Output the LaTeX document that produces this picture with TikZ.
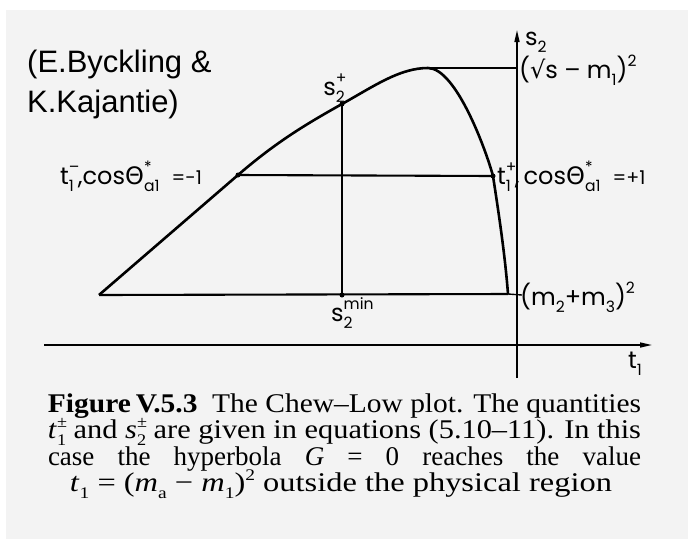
\documentclass[tikz,border=0pt]{standalone}
\usepackage{fontspec}
\usepackage{graphicx}
\setmainfont{Liberation Serif}
\newfontfamily\lab{Poppins}
\newfontfamily\labg{DejaVu Sans}
\newfontfamily\arialf{Liberation Sans}
\usetikzlibrary{arrows.meta}
\newcommand\lsb[1]{\raisebox{-0.3em}{\scalebox{0.65}{#1}}}
\newcommand\lsp[1]{\raisebox{0.5em}{\scalebox{0.65}{#1}}}
\newcommand\lss[2]{\rlap{\lsp{#1}}\lsb{#2}}
\newcommand\csb[1]{\raisebox{-0.25em}{\scalebox{0.6}{#1}}}
\newcommand\csp[1]{\raisebox{0.4em}{\scalebox{0.6}{#1}}}
\newcommand\css[2]{\rlap{\csp{#1}}\csb{#2}}
\newsavebox\cbox
\newcommand\fitline[2][593pt]{\sbox\cbox{#2}\resizebox{#1}{\height}{\usebox\cbox}}
\newcommand\jline[2][593pt]{\makebox[#1][s]{#2}}
\definecolor{scan}{RGB}{243,243,243}
\begin{document}
\begin{tikzpicture}[x=1pt,y=-1pt,
  curve/.style={line width=2.6pt,line join=round},
  base/.style={line width=2.1pt},
  thin/.style={line width=1.4pt},
  axisline/.style={line width=1.5pt},
  dotp/.style={circle,fill=black,inner sep=0pt,minimum size=5pt},
  lbl/.style={inner sep=0pt,font=\lab\fontsize{24}{24}\selectfont},
  captext/.style={inner sep=0pt,anchor=base,font=\fontsize{27}{27}\selectfont},
  credit/.style={inner sep=0pt,anchor=base west,font=\arialf\fontsize{31}{31}\selectfont}]
\useasboundingbox (0,0) rectangle (688,539);
\fill[white] (0,0) rectangle (688,539);
\fill[scan] (6,10) rectangle (688,539);
% key points
\coordinate (A) at (99,295);
\node[dotp] (Tm) at (238,175) {};
\node[dotp] (Sp) at (342,104) {};
\coordinate (P) at (428,68);
\node[dotp] (Tp) at (493,176) {};
\coordinate (B) at (508,294);
\node[dotp] (Smin) at (342,295) {};
\coordinate (Ytop) at (517,30);
\coordinate (Ybot) at (517,378);
\coordinate (Xl) at (44,345);
\coordinate (Xr) at (652,345);
\coordinate (Ypk) at (517,68);
\coordinate (Ymm) at (522,295);
% axes
\draw[axisline,-{Triangle[length=12pt,width=5pt]}] (Xl) -- (Xr);
\draw[axisline,-{Triangle[length=12pt,width=5pt]}] (Ybot) -- (Ytop);
% lines
\draw[thin] (P) -- (Ypk);
\draw[base] (Tm.center) -- (Tp.center);
\draw[thin] (Sp.center) -- (Smin.center);
\draw[base] (A) -- (B);
\draw[thin] (B) -- (Ymm);
\draw[curve] (B) .. controls (505,255) and (499,215) .. (Tp.center)
  .. controls (486,150) and (456,68) .. (P)
  .. controls (400,68) and (375,85.5) .. (Sp.center)
  .. controls (305,124.7) and (275.5,142.6) .. (Tm.center) -- (A);
% labels
\node[lbl,anchor=west] (ls2) at (525,42) {s\lsb{2}};
\node[lbl,anchor=west] (lsq) at (519,70) {({\labg √}s – m\lsb{1})\lsp{2}};
\node[lbl,anchor=base] (lsp) at (334,95) {s\lss{+}{2}};
\node[lbl,anchor=base west] (ltm) at (60,184) {t\lss{–}{1}\,,cos{\labg Θ}\lss{*}{a1}\hspace{0.5em}{\fontsize{19}{19}\selectfont =-1}};
\node[lbl,anchor=base west] (ltp) at (497,184) {t\lss{+}{1}\,,\,cos{\labg Θ}\lss{*}{a1}\hspace{0.5em}{\fontsize{19}{19}\selectfont =+1}};
\node[lbl,anchor=west] (lmm) at (520,297) {(m\lsb{2}+m\lsb{3})\lsp{2}};
\node[lbl,anchor=base west] (lsmin) at (331,321) {s\lss{min}{2}};
\node[lbl,anchor=base west] (lt1) at (628,368) {t\lsb{1}};
% credit
\node[credit] (c1) at (27,72) {(E.Byckling \&};
\node[credit] (c2) at (27,112) {K.Kajantie)};
% caption
\node[captext] (cap1) at (344.5,412) {\fitline{{\bfseries Figure\,V.5.3}\enspace The Chew–Low plot. The quantities}};
\node[captext] (cap2) at (344.5,438.5) {\fitline{\textit{t}\css{±}{1} and \textit{s}\css{±}{2} are given in equations (5.10–11). In this}};
\node[captext] (cap3) at (344.5,465) {\jline{case the hyperbola \textit{G} = 0 reaches the value}};
\node[captext] (cap4) at (341,491.5) {\fitline[542pt]{\textit{t}\csb{1} = (\textit{m}\csb{a} − \textit{m}\csb{1})\csp{2} outside the physical region}};
\end{tikzpicture}
\end{document}
